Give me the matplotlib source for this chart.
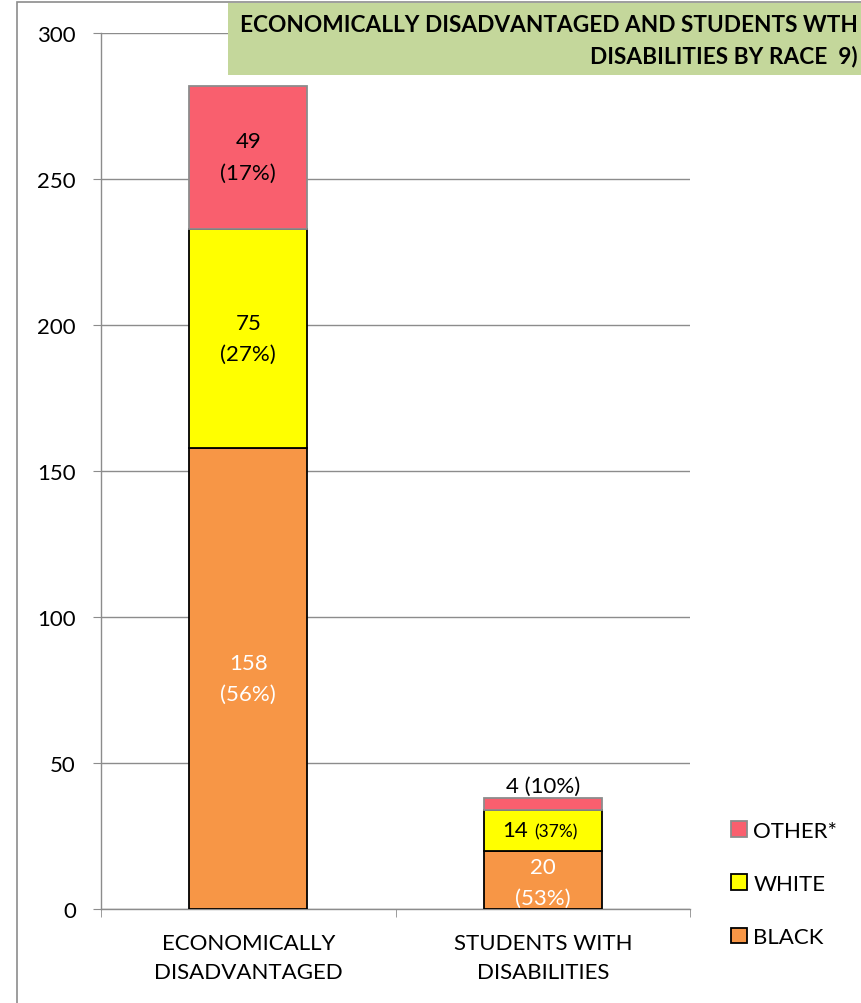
import matplotlib
matplotlib.use("Agg")
import matplotlib.pyplot as plt
from matplotlib.patches import Rectangle, Patch

plt.rcParams['font.family'] = ['Lato', 'DejaVu Sans']

categories = ["ECONOMICALLY\nDISADVANTAGED", "STUDENTS WITH\nDISABILITIES"]
series_names = ["BLACK", "WHITE", "OTHER*"]
black = [158, 20]
white = [75, 14]
other = [49, 4]
pct_black = ["56%", "53%"]
pct_white = ["27%", "37%"]
pct_other = ["17%", "10%"]
yticks = [0, 50, 100, 150, 200, 250, 300]
title_lines = ["ECONOMICALLY DISADVANTAGED AND STUDENTS WTH", "DISABILITIES BY RACE  9)"]

W, H = 861, 1004
fig = plt.figure(figsize=(W / 100, H / 100), dpi=100)

def fx(px):
    return px / W

def fy(py):
    return 1 - py / H

# outer chart frame
fig.patches.append(Rectangle((fx(17), fy(1010)), fx(900) - fx(17), fy(3) - fy(1010),
                             transform=fig.transFigure, fill=False, edgecolor='#8c8c8c', lw=1.2))

ax = fig.add_axes([fx(101), fy(910), fx(690) - fx(101), fy(34) - fy(910)])

c_black = '#F79646'
c_white = '#FFFF00'
c_other = '#F95F6E'
x = [0, 1]
bw = 0.4
ax.bar(x, black, bw, color=c_black, edgecolor='black', lw=1.3, zorder=3)
ax.bar(x, white, bw, bottom=black, color=c_white, edgecolor='black', lw=1.3, zorder=3)
bot2 = [b + w for b, w in zip(black, white)]
ax.bar(x, other, bw, bottom=bot2, color=c_other, edgecolor='#8c8c8c', lw=1.3, zorder=3)

ax.set_xlim(-0.5, 1.5)
ax.set_ylim(0, 300)
ax.set_yticks(yticks)
ax.yaxis.grid(True, color='#8c8c8c', lw=1.0)
ax.set_axisbelow(True)
for s in ['top', 'right']:
    ax.spines[s].set_visible(False)
for s in ['left', 'bottom']:
    ax.spines[s].set_color('#8c8c8c')
    ax.spines[s].set_linewidth(1.0)
ax.tick_params(axis='y', length=6, color='#8c8c8c', labelsize=16, pad=12)
ax.set_xticks(x)
ax.set_xticklabels(categories, fontsize=16, linespacing=1.6)
ax.tick_params(axis='x', length=0, pad=17)
ax.set_xticks([-0.5, 0.5, 1.5], minor=True)
ax.tick_params(axis='x', which='minor', length=6, color='#8c8c8c')

fs = 16
ls = 1.7
# bar 1 labels
ax.text(0, black[0] / 2, f"{black[0]}\n({pct_black[0]})", ha='center', va='center',
        color='white', fontsize=fs, linespacing=ls, zorder=5)
ax.text(0, black[0] + white[0] / 2, f"{white[0]}\n({pct_white[0]})", ha='center', va='center',
        color='black', fontsize=fs, linespacing=ls, zorder=5)
ax.text(0, bot2[0] + other[0] / 2, f"{other[0]}\n({pct_other[0]})", ha='center', va='center',
        color='black', fontsize=fs, linespacing=ls, zorder=5)
# bar 2 labels
ax.text(1, black[1] / 2 - 0.8, f"{black[1]}\n({pct_black[1]})", ha='center', va='center',
        color='white', fontsize=fs, linespacing=ls, zorder=5)
ax.annotate(f"{white[1]}", xy=(1, black[1] + white[1] / 2), xytext=(-10.5, 0),
            textcoords='offset points', ha='right', va='center', fontsize=fs, zorder=5)
ax.annotate(f"({pct_white[1]})", xy=(1, black[1] + white[1] / 2), xytext=(-6, -1),
            textcoords='offset points', ha='left', va='center', fontsize=12.5, zorder=5)
ax.text(1, bot2[1] + other[1] + 0.6, f"{other[1]} ({pct_other[1]})", ha='center', va='bottom',
        color='black', fontsize=fs, zorder=5)

# legend
handles = [Patch(facecolor=c_other, edgecolor='#8c8c8c', lw=1.3),
           Patch(facecolor=c_white, edgecolor='black', lw=1.3),
           Patch(facecolor=c_black, edgecolor='black', lw=1.3)]
fig.legend(handles, [series_names[2], series_names[1], series_names[0]],
           loc='center left', bbox_to_anchor=(fx(720), fy(885)), frameon=False,
           fontsize=16, handlelength=0.7, handleheight=0.7, handletextpad=0.3,
           labelspacing=1.5, borderpad=0)

# title box
fig.patches.append(Rectangle((fx(228), fy(76)), fx(870) - fx(228), fy(4) - fy(76),
                             transform=fig.transFigure, facecolor='#C4D79B', edgecolor='none', zorder=10))
fig.text(fx(858), fy(25), title_lines[0], ha='right', va='center', fontsize=16.3,
         fontweight='bold', zorder=11)
fig.text(fx(858), fy(57), title_lines[1], ha='right', va='center', fontsize=16.3,
         fontweight='bold', zorder=11)

fig.savefig("out.png", dpi=100)
